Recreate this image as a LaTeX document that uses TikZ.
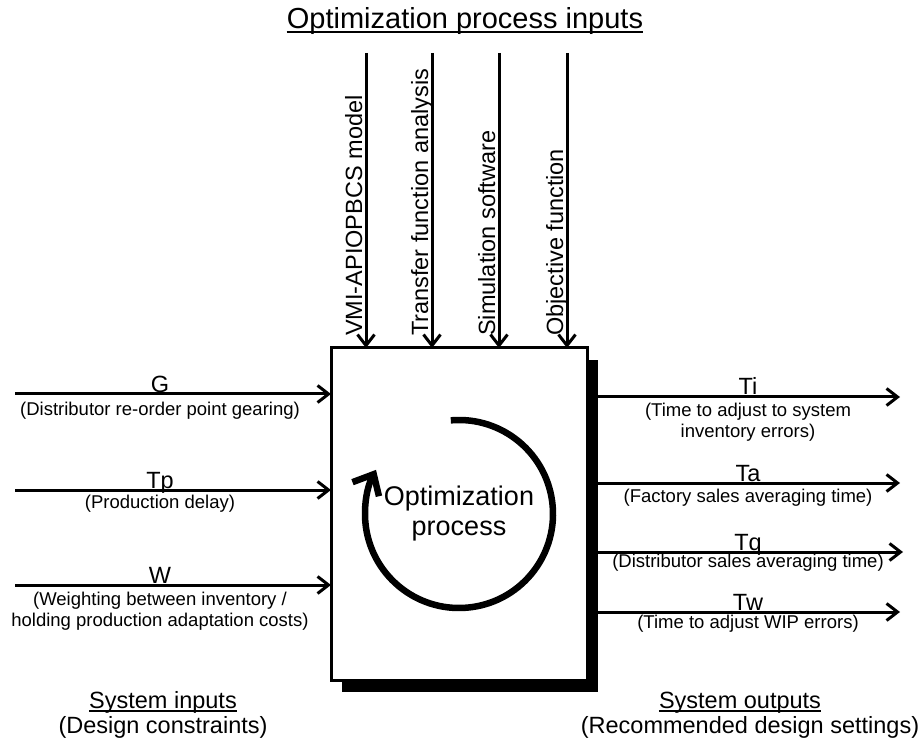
\documentclass[tikz,border=0pt]{standalone}
\usepackage{fontspec}
\setmainfont{Liberation Sans}
\usetikzlibrary{arrows.meta,shadows}

\newcommand{\titlesz}{\fontsize{29}{32}\selectfont}
\newcommand{\midsz}{\fontsize{23.5}{25}\selectfont}
\newcommand{\procsz}{\fontsize{27}{30}\selectfont}
\newcommand{\descsz}{\fontsize{18.5}{20.5}\selectfont}

\tikzset{
  flow/.style={line width=3pt, -{Straight Barb[length=11pt,width=17pt]}},
  varlbl/.style={font=\midsz, inner sep=0pt, anchor=base},
  desclbl/.style={font=\descsz, inner sep=0pt, anchor=north, align=center},
  toplbl/.style={font=\midsz, inner sep=0pt, anchor=base west, rotate=90},
  heading/.style={font=\midsz, inner sep=0pt, anchor=base},
  underbar/.style={line width=1.6pt},
}

\begin{document}
\begin{tikzpicture}[x=1pt,y=1pt]
    \useasboundingbox (0,0) rectangle (919,-743);

    % Process box with its shadow
    \node[draw, line width=3pt, fill=white, inner sep=0pt, outer sep=0pt,
          minimum width=256pt, minimum height=332pt, anchor=north west,
          drop shadow={shadow xshift=11pt, shadow yshift=-12pt, fill=black, opacity=1}]
          (optbox) at (331,-348) {};

    % Loop arrow and process name
    \draw[line width=6.5pt, -{Straight Barb[length=17pt,width=30pt]}]
        ([shift={(95:94)}]optbox.center) arc[start angle=95, end angle=-208, radius=94];
    \node[font=\procsz, align=center, inner sep=0pt] (proc) at (optbox.center) {Optimization\\process};

    % Optimization process inputs
    \node[font=\titlesz, inner sep=0pt, anchor=base] (inputs-title) at (465,-29) {Optimization process inputs};
    \draw[underbar] ([yshift=-3pt]inputs-title.base west) -- ([yshift=-3pt]inputs-title.base east);

    \coordinate (vmi-top) at (366,-53);
    \draw[flow] (vmi-top) -- (vmi-top |- optbox.north);
    \node[toplbl] (vmi-lbl) at (362,-336) {VMI-APIOPBCS model};

    \coordinate (tf-top) at (432,-53);
    \draw[flow] (tf-top) -- (tf-top |- optbox.north);
    \node[toplbl] (tf-lbl) at (428,-336) {Transfer function analysis};

    \coordinate (sim-top) at (499,-53);
    \draw[flow] (sim-top) -- (sim-top |- optbox.north);
    \node[toplbl] (sim-lbl) at (495,-336) {Simulation software};

    \coordinate (obj-top) at (567,-53);
    \draw[flow] (obj-top) -- (obj-top |- optbox.north);
    \node[toplbl] (obj-lbl) at (563,-336) {Objective function};

    % System inputs
    \coordinate (g-src) at (15,-394);
    \draw[flow] (g-src) -- (g-src -| optbox.west);
    \node[varlbl] (g-lbl) at (160,-392) {G};
    \node[desclbl] (g-desc) at (160,-402) {(Distributor re-order point gearing)};

    \coordinate (tp-src) at (15,-490);
    \draw[flow] (tp-src) -- (tp-src -| optbox.west);
    \node[varlbl] (tp-lbl) at (160,-488) {Tp};
    \node[desclbl] (tp-desc) at (160,-495) {(Production delay)};

    \coordinate (w-src) at (15,-585);
    \draw[flow] (w-src) -- (w-src -| optbox.west);
    \node[varlbl] (w-lbl) at (160,-583) {W};
    \node[desclbl] (w-desc) at (160,-592) {(Weighting between inventory /\\holding production adaptation costs)};

    % System outputs
    \coordinate (ti-dst) at (900,-397);
    \draw[flow] (ti-dst -| optbox.east) -- (ti-dst);
    \node[varlbl] (ti-lbl) at (748,-395) {Ti};
    \node[desclbl] (ti-desc) at (748,-403) {(Time to adjust to system\\inventory errors)};

    \coordinate (ta-dst) at (900,-483);
    \draw[flow] (ta-dst -| optbox.east) -- (ta-dst);
    \node[varlbl] (ta-lbl) at (748,-481) {Ta};
    \node[desclbl] (ta-desc) at (748,-489) {(Factory sales averaging time)};

    \coordinate (tq-dst) at (903,-552);
    \draw[flow] (tq-dst -| optbox.east) -- (tq-dst);
    \node[varlbl] (tq-lbl) at (748,-550) {Tq};
    \node[desclbl] (tq-desc) at (748,-554) {(Distributor sales averaging time)};

    \coordinate (tw-dst) at (900,-612);
    \draw[flow] (tw-dst -| optbox.east) -- (tw-dst);
    \node[varlbl] (tw-lbl) at (748,-610) {Tw};
    \node[desclbl] (tw-desc) at (748,-615) {(Time to adjust WIP errors)};

    % Bottom headings
    \node[heading] (sysin) at (163,-708) {System inputs};
    \draw[underbar] ([yshift=-3pt]sysin.base west) -- ([yshift=-3pt]sysin.base east);
    \node[heading] (sysin-sub) at (163,-733) {(Design constraints)};
    \node[heading] (sysout) at (740,-708) {System outputs};
    \draw[underbar] ([yshift=-3pt]sysout.base west) -- ([yshift=-3pt]sysout.base east);
    \node[heading] (sysout-sub) at (750,-733) {(Recommended design settings)};
\end{tikzpicture}
\end{document}
